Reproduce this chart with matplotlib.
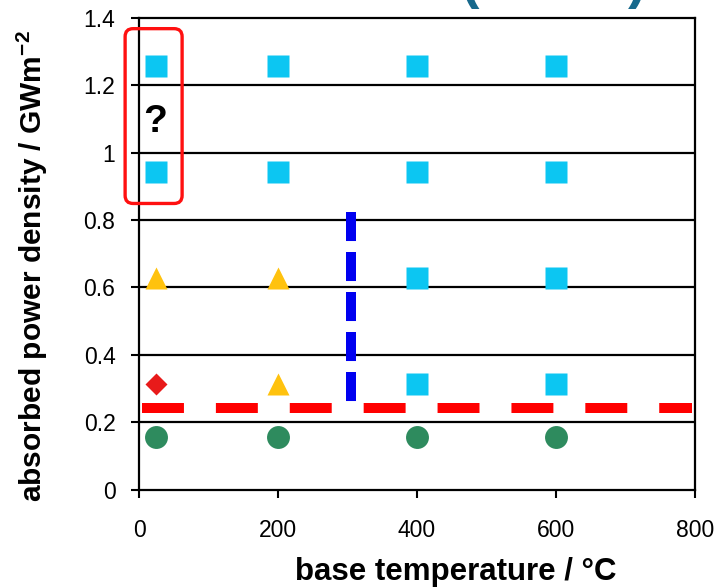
import numpy as np
import matplotlib
matplotlib.use("Agg")
import matplotlib.pyplot as plt
from matplotlib.patches import FancyBboxPatch

plt.rcParams['font.family'] = ['Liberation Sans', 'DejaVu Sans']
plt.rcParams['mathtext.fontset'] = 'custom'
plt.rcParams['mathtext.bf'] = 'Liberation Sans:bold'
plt.rcParams['mathtext.rm'] = 'Liberation Sans'
plt.rcParams['lines.scale_dashes'] = False

# measured points (base temperature in C, absorbed power density in GW/m2)
square_x = [25, 200, 400, 600, 25, 200, 400, 600, 400, 600, 400, 600]
square_y = [1.257, 1.257, 1.257, 1.257, 0.942, 0.942, 0.942, 0.942,
            0.628, 0.628, 0.314, 0.314]
triangle_x = [25, 200, 200]
triangle_y = [0.628, 0.628, 0.314]
diamond_x = [25]
diamond_y = [0.314]
circle_x = [25, 200, 400, 600]
circle_y = [0.157, 0.157, 0.157, 0.157]

# threshold lines
power_limit_x = [5, 795]
power_limit_y = [0.243, 0.243]
temp_limit_x = [305, 305]
temp_limit_y = [0.823, 0.26]

x_ticks = [0, 200, 400, 600, 800]
y_ticks = [0, 0.2, 0.4, 0.6, 0.8, 1.0, 1.2, 1.4]
y_tick_labels = ['0', '0.2', '0.4', '0.6', '0.8', '1', '1.2', '1.4']

fig = plt.figure(figsize=(7.14, 5.88), dpi=100)
ax = fig.add_axes([0.1947, 0.1667, 0.7787, 0.8035])

# horizontal grid
for yv in y_ticks[1:-1]:
    ax.axhline(yv, color='black', lw=1.6, zorder=1)

ax.plot(power_limit_x, power_limit_y, color='#ff0000', lw=7.2,
        dashes=(30.2, 23.0), solid_capstyle='butt', zorder=2)
ax.plot(temp_limit_x, temp_limit_y, color='#0000f0', lw=7.2,
        dashes=(20.9, 7.9), zorder=2)

ax.plot(square_x, square_y, ls='none', marker='s', ms=16.5,
        color='#0cc6f2', mec='none', zorder=3)
ax.plot(triangle_x, triangle_y, ls='none', marker='^', ms=16,
        color='#ffc20e', mec='none', zorder=3)
ax.plot(diamond_x, diamond_y, ls='none', marker='D', ms=11.2,
        color='#e81a1a', mec='none', zorder=3)
ax.plot(circle_x, circle_y, ls='none', marker='o', ms=16.5,
        color='#2e8b5e', mec='none', zorder=3)

ax.set_xlim(0, 800)
ax.set_ylim(0, 1.4)
ax.set_xticks(x_ticks)
ax.set_yticks(y_ticks)
ax.set_yticklabels(y_tick_labels)
ax.tick_params(axis='both', direction='out', length=6, width=1.5,
               labelsize=16.5, color='black')
ax.tick_params(axis='x', pad=15)
ax.tick_params(axis='y', pad=11)
for sp in ax.spines.values():
    sp.set_color('black')
    sp.set_linewidth(1.6)

# red box with question mark
box = FancyBboxPatch((-20, 0.849), 82, 0.518,
                     boxstyle='round,pad=0,rounding_size=11.5',
                     mutation_aspect=0.00206, fill=False, ec='#ff1010',
                     lw=2.4, clip_on=False, zorder=4)
ax.add_patch(box)
ax.text(23, 1.09, '?', fontsize=28, fontweight='bold', ha='center',
        va='center', zorder=5)

fig.text(0.638, 0.0136, 'base temperature / °C', fontsize=22.5,
         fontweight='bold', ha='center', va='baseline')
fig.text(0.045, 0.548, r'absorbed power density / GWm$^{\mathbf{-2}}$',
         fontsize=21.5, fontweight='bold', rotation=90,
         ha='center', va='center')

# cropped title fragment at the top
fig.text(0.658, 0.985, '(', fontsize=40, fontweight='bold',
         color='#17698c', ha='center', va='bottom')
fig.text(0.893, 0.985, ')', fontsize=40, fontweight='bold',
         color='#17698c', ha='center', va='bottom')

fig.savefig('out.png', dpi=100)
